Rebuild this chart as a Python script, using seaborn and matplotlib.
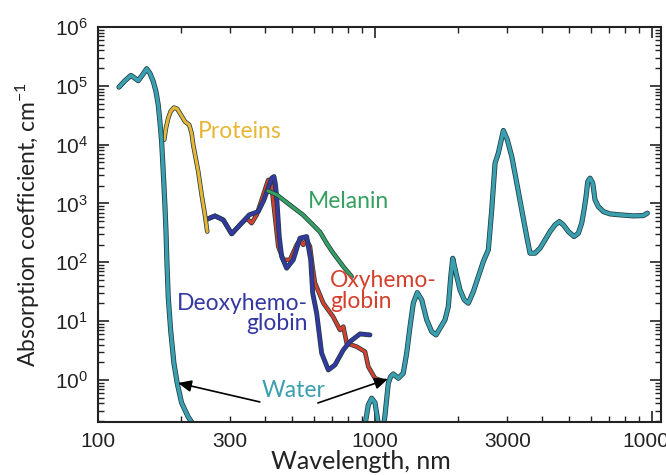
import numpy as np
import pandas as pd
import matplotlib
matplotlib.use("Agg")
import matplotlib.pyplot as plt
import matplotlib.patheffects as pe
from matplotlib.ticker import LogLocator, FuncFormatter
import seaborn as sns

# absorption spectra (wavelength nm, coefficient cm^-1)
water_uv_nm = [119.1, 125.2, 131.5, 136, 139.8, 145, 150, 154, 158.4, 162, 165.1, 167.4, 169.8,
               172.1, 174.5, 176, 177.5, 179.4, 183, 188, 193.2, 200.4, 211.8, 222]
water_uv = [9.5e4, 1.22e5, 1.5e5, 1.35e5, 1.22e5, 1.54e5, 1.95e5, 1.64e5, 1.19e5, 8.0e4, 4.75e4,
            2.47e4, 1.13e4, 3.49e3, 946, 356, 98, 26, 7.1, 1.95, 0.89, 0.41, 0.235, 0.17]
water_vis_nm = [920, 946, 973, 1000, 1030]
water_vis = [0.17, 0.376, 0.49, 0.41, 0.17]
water_ir_nm = [1075, 1087, 1117, 1139, 1164, 1214, 1265, 1301, 1338, 1375, 1421, 1475, 1537, 1602,
               1661, 1717, 1789, 1839, 1877, 1908, 1961, 2027, 2101, 2172, 2264, 2360, 2460,
               2565, 2638, 2712, 2787, 2906, 3003, 3116, 3249, 3385, 3529, 3627, 3782, 3942,
               4110, 4283, 4464, 4628, 4784, 4989, 5228, 5420, 5571, 5683, 5777, 5859, 5973,
               6109, 6224, 6397, 6673, 7050, 7666, 8561, 9303, 9617]
water_ir = [0.17, 0.254, 0.879, 1.14, 1.265, 1.069, 1.30, 2.85, 8.06, 20.2, 30.5, 22.9, 10.5, 6.63,
            5.83, 7.57, 10.5, 17.6, 57.1, 117, 65.3, 33.9, 22.9, 20.2, 31.7, 57.1, 103,
            163, 778, 4842, 7160, 1.74e4, 1.21e4, 6280, 2214, 778, 274, 143, 143, 174,
            240, 333, 433, 492, 433, 333, 274, 312, 462, 778, 1310, 2355, 2692,
            2214, 1151, 885, 728, 665, 640, 615, 622, 684]

protein_nm = [173.5, 176, 179.4, 183, 188.1, 193.3, 197.7, 206.1, 213.6, 217.9, 220.8, 230.2,
              236.8, 243.4, 248.1]
protein = [1.21e4, 1.9e4, 2.83e4, 3.66e4, 4.27e4, 4.06e4, 3.43e4, 2.47e4, 2.17e4, 1.57e4, 9.9e3,
           3.49e3, 1.40e3, 6.4e2, 3.33e2]

deoxy_nm = [248, 264.5, 283.4, 303.9, 325.6, 351.7, 379.1, 397.5, 415.3, 423.6, 431.9, 436.6,
            441.7, 451.3, 460.5, 479.9, 507, 536, 566.8, 586, 596, 616, 642, 678.5, 717, 768.6,
            812, 883, 959]
deoxy = [541, 615, 526, 304, 433, 640, 728, 1151, 2071, 2692, 2866, 2214,
         1310, 274, 125, 79.4, 110, 257, 274, 110, 29.8, 13.6, 2.85, 1.48, 1.80, 3.24,
         4.48, 6.06, 5.83]

oxy_nm = [248, 264.5, 283.4, 303.9, 325.6, 344.2, 358.8, 374.1, 390, 404.2, 411.9, 417.8, 423.6,
          435.5, 447.7, 466.7, 493.3, 521.7, 536, 551, 566.8, 582.6, 596, 607, 651, 706, 747.5,
          768.6, 790.6, 859, 920.5, 946, 1000, 1057]
oxy = [541, 615, 526, 304, 433, 562, 462, 640, 1151, 1938, 2518, 2355, 1938,
       599, 185, 110, 110, 198, 240, 198, 240, 185, 80, 45, 20.2, 11.9, 7.08,
       8.06, 4.21, 3.68, 3.03, 1.68, 1.07, 0.973]

melanin_nm = [411, 442.5, 493, 549.5, 597, 633, 669, 707, 769, 824]
melanin = [1637, 1400, 946, 640, 433, 329, 211, 143, 84.5, 57.1]

WATER = "#3a9fae"
PROTEIN = "#e8b534"
MELANIN = "#35a060"
OXY = "#d4402c"
DEOXY = "#3438a0"

sns.set_style("ticks")
plt.rcParams['font.family'] = ['Liberation Sans', 'DejaVu Sans']
plt.rcParams['mathtext.default'] = 'regular'
LABEL_FONT = ['Lato', 'DejaVu Sans']

fig = plt.figure(figsize=(6.66, 4.75), dpi=100)
ax = fig.add_axes([0.147, 0.1116, 0.8455, 0.8316])
ax.set_xscale('log')
ax.set_yscale('log')

df_water = pd.concat([
    pd.DataFrame({'nm': water_uv_nm, 'abs': water_uv, 'seg': 0}),
    pd.DataFrame({'nm': water_vis_nm, 'abs': water_vis, 'seg': 1}),
    pd.DataFrame({'nm': water_ir_nm, 'abs': water_ir, 'seg': 2}),
])


def outline(w):
    return [pe.Stroke(linewidth=w + 1.1, foreground='#1e3c44'), pe.Normal()]


line_kw = dict(sort=False, ax=ax, solid_joinstyle='round', solid_capstyle='round')
sns.lineplot(x=oxy_nm, y=oxy, color=OXY, lw=2.2, path_effects=outline(2.2), **line_kw)
sns.lineplot(x=deoxy_nm, y=deoxy, color=DEOXY, lw=2.4, path_effects=outline(2.4), **line_kw)
sns.lineplot(x=melanin_nm, y=melanin, color=MELANIN, lw=2.2, path_effects=outline(2.2), **line_kw)
sns.lineplot(x=protein_nm, y=protein, color=PROTEIN, lw=2.2, path_effects=outline(2.2), **line_kw)
sns.lineplot(data=df_water, x='nm', y='abs', units='seg', estimator=None, color=WATER, lw=2.6,
             legend=False, path_effects=outline(2.6), **line_kw)

ax.set_xlim(100, 10770)
ax.set_ylim(0.193, 1e6)

ax.xaxis.set_major_locator(LogLocator(base=10, numticks=10))
ax.xaxis.set_minor_locator(LogLocator(base=10, subs=np.arange(2, 10), numticks=30))
ax.xaxis.set_major_formatter(FuncFormatter(lambda v, p: f"{v:.0f}"))
ax.xaxis.set_minor_formatter(FuncFormatter(
    lambda v, p: f"{v:.0f}" if round(v) in (300, 3000) else ""))
ax.yaxis.set_major_locator(LogLocator(base=10, numticks=12))
ax.yaxis.set_minor_locator(LogLocator(base=10, subs=np.arange(2, 10), numticks=30))
ax.yaxis.set_major_formatter(FuncFormatter(
    lambda v, p: f"$10^{{{int(round(np.log10(v)))}}}$"))

ax.tick_params(which='both', direction='in', top=True, right=True,
               labelsize=15, colors='#222222')
ax.tick_params(which='major', length=8, width=1.2, pad=7)
ax.tick_params(which='minor', length=4.5, width=1.0, pad=7)
for s in ax.spines.values():
    s.set_linewidth(1.5)
    s.set_color('#222222')

ax.set_xlabel('Wavelength, nm', fontsize=18, family=LABEL_FONT, color='#222222')
ax.xaxis.set_label_coords(0.467, -0.07)
ax.set_ylabel('Absorption coefficient, cm$^{-1}$', fontsize=16.5, family=LABEL_FONT,
              color='#222222')
ax.yaxis.set_label_coords(-0.1, 0.5)

txt = dict(fontsize=16.5, family=LABEL_FONT, va='center')
ax.text(229.6, 1.65e4, 'Proteins', color=PROTEIN, ha='left', **txt)
ax.text(573, 1077, 'Melanin', color=MELANIN, ha='left', **txt)
ax.text(688, 32.6, 'Oxyhemo-\nglobin', color=OXY, ha='left', linespacing=0.95, **txt)
ax.text(573, 13.5, 'Deoxyhemo-\nglobin', color=DEOXY, ha='right', multialignment='right',
        linespacing=0.95, **txt)
ax.text(510, 0.65, 'Water', color=WATER, ha='center', **txt)

arrow = dict(arrowstyle='-|>,head_length=0.8,head_width=0.35', color='black', lw=1.2,
             shrinkA=0, shrinkB=0)
ax.annotate('', xy=(194.5, 0.889), xytext=(384, 0.423), arrowprops=arrow)
ax.annotate('', xy=(1114, 1.04), xytext=(622, 0.406), arrowprops=arrow)

plt.savefig('out.png', dpi=100)
plt.close()
